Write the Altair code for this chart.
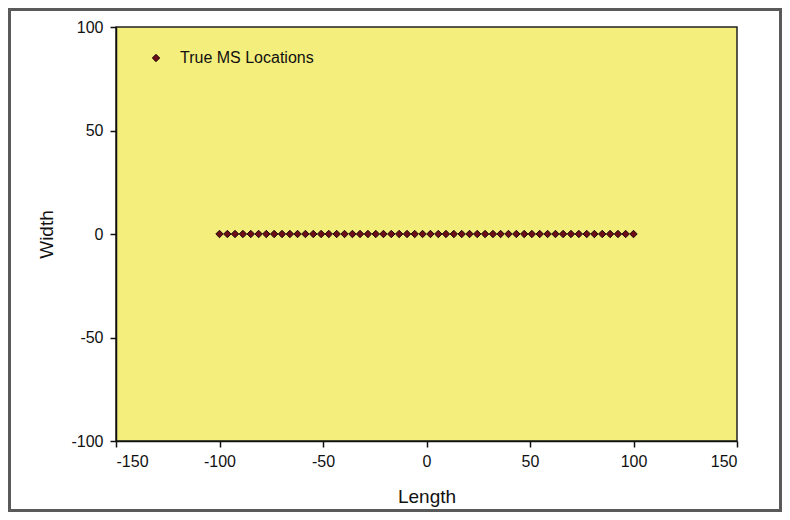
import altair as alt
import pandas as pd

series_name = "True MS Locations"
length_vals = [-100.0, -96.2, -92.5, -88.7, -84.9, -81.1, -77.4, -73.6, -69.8, -66.0,
               -62.3, -58.5, -54.7, -50.9, -47.2, -43.4, -39.6, -35.8, -32.1, -28.3,
               -24.5, -20.8, -17.0, -13.2, -9.4, -5.7, -1.9, 1.9, 5.7, 9.4,
               13.2, 17.0, 20.8, 24.5, 28.3, 32.1, 35.8, 39.6, 43.4, 47.2,
               50.9, 54.7, 58.5, 62.3, 66.0, 69.8, 73.6, 77.4, 81.1, 84.9,
               88.7, 92.5, 96.2, 100.0]
width_vals = [0.0] * len(length_vals)
x_ticks = [-150, -100, -50, 0, 50, 100, 150]
y_ticks = [-100, -50, 0, 50, 100]

df = pd.DataFrame({"Length": length_vals, "Width": width_vals, "Series": series_name})

FONT = "Liberation Sans"

points = alt.Chart(df).mark_point(
    shape="diamond", filled=True, size=55, stroke="#1a0a0a", strokeWidth=1, opacity=1
).encode(
    x=alt.X("Length:Q", scale=alt.Scale(domain=[-150, 150], nice=False),
            axis=alt.Axis(values=x_ticks, title="Length", grid=False, tickSize=6,
                          labelExpr="datum.value + ''",
                          labelPadding=6, titlePadding=18)),
    y=alt.Y("Width:Q", scale=alt.Scale(domain=[-100, 100], nice=False),
            axis=alt.Axis(values=y_ticks, title="Width", grid=False, tickSize=6,
                          labelExpr="datum.value + ''",
                          labelPadding=7, titlePadding=14)),
    color=alt.Color("Series:N",
                    scale=alt.Scale(domain=[series_name], range=["#6e0c18"]),
                    legend=alt.Legend(title=None, orient="none", legendX=32, legendY=23,
                                      symbolType="diamond", symbolSize=55,
                                      symbolStrokeColor="#1a0a0a", symbolStrokeWidth=1,
                                      labelFont=FONT, labelFontSize=16, labelColor="#111",
                                      labelOffset=16)),
)

frame = alt.Chart(pd.DataFrame({"a": [0]})).mark_rect(
    fill=None, stroke="#5a5a5a", strokeWidth=3, clip=False
).encode(
    x=alt.value(-106.5), x2=alt.value(664.5), y=alt.value(-17.5), y2=alt.value(483.5)
)

chart = alt.layer(frame, points).properties(
    width=621, height=414,
    autosize=alt.AutoSizeParams(type="none"),
    padding={"left": 108, "top": 19, "right": 45, "bottom": 71},
    background="white",
).configure_view(
    fill="#f4ee7c", stroke="#222", strokeWidth=1.5
).configure_axis(
    domainColor="#111", tickColor="#111", domainWidth=1.5, tickWidth=1.5,
    labelFont=FONT, labelFontSize=16, labelColor="#111",
    titleFont=FONT, titleFontSize=19, titleFontWeight="normal", titleColor="#111",
)

chart.save("out.html", embed_options={"renderer": "svg", "actions": False})
